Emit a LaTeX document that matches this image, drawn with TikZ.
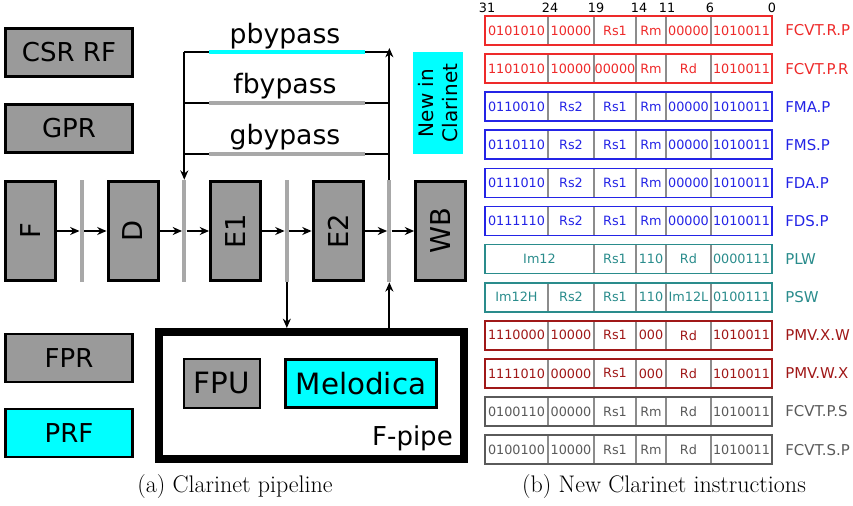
\documentclass[tikz,border=0pt]{standalone}
\usepackage{fontspec}
\usetikzlibrary{arrows.meta,positioning}
\newfontfamily\dvs{DejaVu Sans}
\definecolor{boxgray}{HTML}{9A9A9A}
\definecolor{reggray}{HTML}{A8A8A8}
\definecolor{newcyan}{HTML}{00FFFF}
\definecolor{cvred}{HTML}{EE2A2A}
\definecolor{fpblue}{HTML}{2424E6}
\definecolor{ldteal}{HTML}{2A8C8C}
\definecolor{mvred}{HTML}{A01818}
\definecolor{cvgray}{HTML}{5A5A5A}
\definecolor{divgray}{HTML}{8C8C8C}

\begin{document}
\begin{tikzpicture}[x=0.75pt,y=-0.75pt,>={Stealth[length=7pt,width=6pt]},node distance=16.875pt,
 every node/.style={font=\dvs,inner sep=0pt},
 rf/.style={draw,line width=2.2pt,fill=boxgray,minimum width=95.25pt,minimum height=36pt,font=\dvs\fontsize{19.5}{22}\selectfont},
 stage/.style={draw,line width=2.25pt,fill=boxgray,minimum width=37.5pt,minimum height=74.25pt,font=\dvs\fontsize{20.5}{24}\selectfont},
 reg/.style={fill=reggray,minimum width=3pt,minimum height=76.5pt},
 wire/.style={line width=1.5pt},
 byp/.style={line width=3pt},
 lbl/.style={font=\dvs\fontsize{20}{24}\selectfont},
 unit/.style={draw,minimum height=36.5pt,font=\dvs\fontsize{22}{26}\selectfont},
 instr/.style={draw,line width=1.2pt,minimum width=215.25pt,minimum height=21.75pt},
 divider/.style={divgray,line width=0.9pt},
 cell/.style={font=\dvs\fontsize{9.6}{11}\selectfont},
 opname/.style={anchor=west,font=\dvs\fontsize{11.2}{13}\selectfont},
 captext/.style={font=\rmfamily\fontsize{18}{21}\selectfont}]
\useasboundingbox (0,0) rectangle (853,506);
% register files
\node[rf] (csr) at (69,52.5) {CSR RF};
\node[rf] (gpr) at (69,128.5) {GPR};
\node[rf,line width=1.8pt] (fpr) at (69,358) {FPR};
\node[rf,line width=1.8pt,fill=newcyan] (prf) at (69,433) {PRF};
% pipeline
\node[stage] (F) at (30.5,231) {\rotatebox{90}{F}};
\node[reg,right=of F] (r1) {};
\node[stage,right=of r1] (D) {\rotatebox{90}{D}};
\node[reg,right=of D] (r2) {};
\node[stage,right=of r2] (E1) {\rotatebox{90}{E1}};
\node[reg,right=of E1] (r3) {};
\node[stage,right=of r3] (E2) {\rotatebox{90}{E2}};
\node[reg,right=of E2] (r4) {};
\node[stage,right=of r4] (WB) {\rotatebox{90}{WB}};
\draw[wire,->] (F)--(r1);\draw[wire,->] (r1)--(D);
\draw[wire,->] (D)--(r2);\draw[wire,->] (r2)--(E1);
\draw[wire,->] (E1)--(r3);\draw[wire,->] (r3)--(E2);
\draw[wire,->] (E2)--(r4);\draw[wire,->] (r4)--(WB);
% bypass paths
\coordinate (l0) at (0,48);\coordinate (l1) at (0,52);
\coordinate (l2) at (0,103);\coordinate (l3) at (0,154);
\draw[wire] (r2 |- l1)--(r4 |- l1);
\draw[wire] (r2 |- l2)--(r4 |- l2);
\draw[wire] (r2 |- l3)--(r4 |- l3);
\draw[wire,->] (r2 |- l1)--(r2.north);
\draw[wire,->] (r4.north)--(r4 |- l0);
\draw[byp,newcyan] (E1.west |- l1)--(E2.east |- l1);
\draw[byp,reggray] (E1.west |- l2)--(E2.east |- l2);
\draw[byp,reggray] (E1.west |- l3)--(E2.east |- l3);
\node[lbl] (pb) at (285,36) {pbypass};
\node[lbl] (fb) at (285,86) {fbypass};
\node[lbl] (gb) at (285,137) {gbypass};
\node[fill=newcyan,rotate=90,minimum width=76.5pt,minimum height=37.5pt,align=center,
 font=\dvs\fontsize{15}{18}\selectfont] (new) at (438,103) {New in\\Clarinet};
% F-pipe
\node[draw,line width=6pt,minimum width=229.1pt,minimum height=95.25pt] (fp) at (311.25,395.5) {};
\node[unit,line width=1.5pt,fill=boxgray,minimum width=57pt] (fpu) at (222,383.5) {FPU};
\node[unit,line width=2.25pt,fill=newcyan,minimum width=113.25pt] (mel) at (361,383.5) {Melodica};
\node[anchor=base east,font=\dvs\fontsize{19.5}{23}\selectfont] (fpl) at (453,445) {F-pipe};
\draw[wire,->] (r3.south)--(r3 |- fp.north);
\draw[wire,->] (r4 |- fp.north)--(r4.south);
\node[captext] (capa) at (235,487) {(a) Clarinet pipeline};
% instruction formats
\foreach \x/\bit in {487/31,550/24,596/19,639/14,667/11,710/6,772/0}
  \node[cell] (bit\bit) at (\x,8) {\bit};
\foreach \row/\clr/\nm/\fA/\fB/\fC/\fD/\fE/\fF in {
 1/cvred/FCVT.R.P/0101010/10000/Rs1/Rm/00000/1010011,
 2/cvred/FCVT.P.R/1101010/10000/00000/Rm/Rd/1010011,
 3/fpblue/FMA.P/0110010/Rs2/Rs1/Rm/00000/1010011,
 4/fpblue/FMS.P/0110110/Rs2/Rs1/Rm/00000/1010011,
 5/fpblue/FDA.P/0111010/Rs2/Rs1/Rm/00000/1010011,
 6/fpblue/FDS.P/0111110/Rs2/Rs1/Rm/00000/1010011,
 8/ldteal/PSW/Im12H/Rs2/Rs1/110/Im12L/0100111,
 9/mvred/PMV.X.W/1110000/10000/Rs1/000/Rd/1010011,
 10/mvred/PMV.W.X/1111010/00000/Rs1/000/Rd/1010011,
 11/cvgray/FCVT.P.S/0100110/00000/Rs1/Rm/Rd/1010011,
 12/cvgray/FCVT.S.P/0100100/10000/Rs1/Rm/Rd/1010011}{
  \pgfmathsetmacro\yc{30.5+38.1*(\row-1)}
  \foreach \x in {548,594,636,666,711}
    \draw[divider] (\x,\yc-14) -- (\x,\yc+14);
  \node[instr,draw=\clr] (rw\row) at (628.5,\yc) {};
  \node[cell,text=\clr] (c\row-1) at (516.5,\yc) {\fA};
  \node[cell,text=\clr] (c\row-2) at (571,\yc) {\fB};
  \node[cell,text=\clr] (c\row-3) at (615,\yc) {\fC};
  \node[cell,text=\clr] (c\row-4) at (651,\yc) {\fD};
  \node[cell,text=\clr] (c\row-5) at (688.5,\yc) {\fE};
  \node[cell,text=\clr] (c\row-6) at (741.5,\yc) {\fF};
  \node[opname,text=\clr] (op\row) at (785,\yc) {\nm};
}
% PLW has one wide immediate
\pgfmathsetmacro\yc{30.5+38.1*6}
\foreach \x in {594,636,666,711}
  \draw[divider] (\x,\yc-14) -- (\x,\yc+14);
\node[instr,draw=ldteal] (rw7) at (628.5,\yc) {};
\node[cell,text=ldteal] (c7-1) at (539.5,\yc) {Im12};
\node[cell,text=ldteal] (c7-3) at (615,\yc) {Rs1};
\node[cell,text=ldteal] (c7-4) at (651,\yc) {110};
\node[cell,text=ldteal] (c7-5) at (688.5,\yc) {Rd};
\node[cell,text=ldteal] (c7-6) at (741.5,\yc) {0000111};
\node[opname,text=ldteal] (op7) at (785,\yc) {PLW};
\node[captext] (capb) at (664,487) {(b) New Clarinet instructions};
\end{tikzpicture}
\end{document}
